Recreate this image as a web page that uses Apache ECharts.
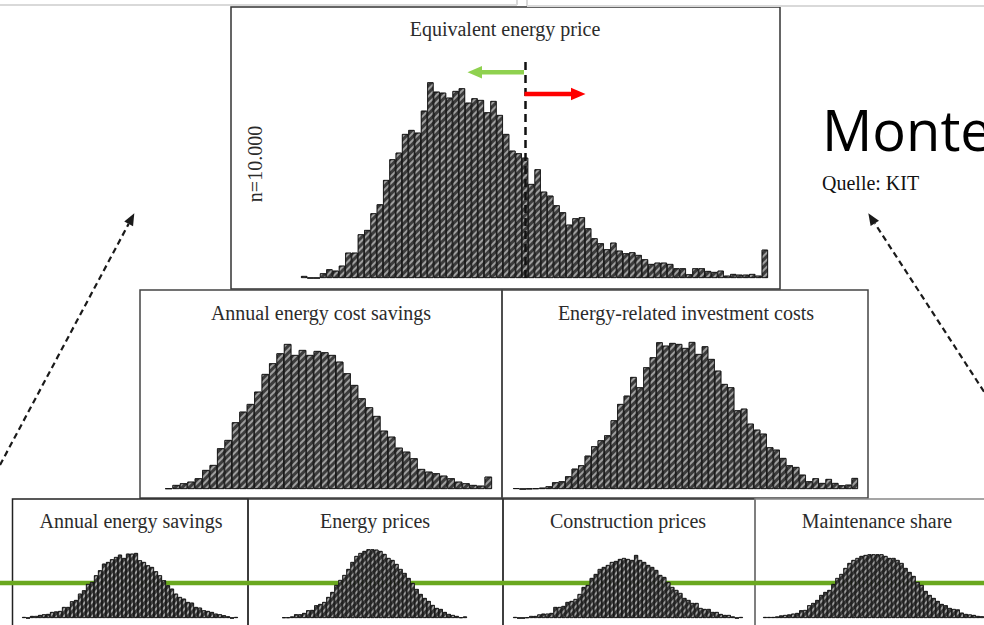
<!DOCTYPE html>
<html>
<head>
<meta charset="utf-8">
<script src="https://cdn.jsdelivr.net/npm/echarts@6/dist/echarts.min.js"></script>
<style>
html,body{margin:0;padding:0;background:#fff;}
#chart{width:984px;height:625px;}
</style>
</head>
<body>
<div id="chart"></div>
<script>
// ---- Titles ----
const titleTop = 'Equivalent energy price';
const titleMidLeft = 'Annual energy cost savings';
const titleMidRight = 'Energy-related investment costs';
const titleBottom = ['Annual energy savings', 'Energy prices', 'Construction prices', 'Maintenance share'];
const sampleLabel = 'n=10.000';
const slideTitle = 'Monte';
const sourceLabel = 'Quelle: KIT';

// ---- Histogram bin heights ----
const equivalentPrice = [2,0,0,4.7,8.7,7.3,12.3,25.3,25.3,43.7,48,64.7,73.7,98,118.7,125.3,144,148,145.3,167.3,
  195.7,186.3,185.3,180.3,187,189.7,175.3,179.7,178,165.7,177,163,144,127.3,124.7,120.3,94,108.7,86.3,82.3,
  72.7,65.7,53.3,59.7,60.7,49.7,39.7,34.7,28.7,35.3,27.3,24.7,25.7,23,18.7,14,15.3,15.3,14,9.7,
  9.7,3.7,9.7,9.7,7,6,7.3,2.3,4,3.3,3.3,4,2.3,28.3];
const costSavings = [0.7,4,5.7,7.3,10.7,19,24,40.7,49,66.7,77.3,85,97.3,115,125.7,135.7,145,134,139,134,
  138,136.7,134,127.3,115.7,104,90.7,81.7,73,58.3,52.3,41.3,37.3,30.7,20,17.3,15.7,13.3,10.7,7.3,
  5.7,4,3.3,12.3];
const investmentCosts = [0.9,0,0.4,0.7,1.3,2.7,6.7,7.7,12.7,20.3,23.7,33.3,42.7,48.7,53.7,68.7,85,93.3,112,101.7,
  121.7,131.7,146.7,143.3,146,145,141,147,135,142.7,130,118.3,105,101.7,78.7,80.3,65.3,59.3,55.3,41.7,
  39.3,31,23.7,22,14.3,7.7,10.7,6,10,6,3.7,4.3,11];
const energySavings = [1,0,2,2,3,3.7,4,6,6.5,7,11,11,16.7,18,24.3,27.7,34,36,42.7,47.7,
  54.3,56,58.7,61,63.3,60,64.3,64.3,65,57.7,56,52.7,51,46.7,42.7,37.7,32.7,29.3,24.3,21,
  19.3,16,15.3,11,10.3,7.7,7,6,4.3,3.7,2.7,1.7,0,1];
const energyPrices = [0.7,0.7,1.5,3.7,3.7,5,7.7,8,12.7,14,16,21,26,33,38,43,49,56,62,65,
  67,68.7,68.7,68.3,67,64,60,58,54,49,45,40,35,29,24,20,17,13,10,9,
  6,4,3,2,0.7,1.5];
const constructionPrices = [1,0,0,0.7,2,2,3.5,4.3,4.3,5,11,11,12,16,17,19,24,31,33,40,
  44,49,51,53,56,57,59,60,59,58,63,58,56,53,51,48,43,41,36,31,
  28,25,20,18,15,15,10,9,9,6,6,4,3,3,1.5,0,1];
const maintenanceShare = [1,1,1,1.5,2.5,3,3.5,4.3,5,7.7,8,12.7,15,18,23,26,28,34,40,44,
  50,55,58,60,62,63,63.7,63.7,63.7,63.7,62,60,60,58,55,50,46,42,36,33,
  27,23,20,17,14,12.7,10,9,8.5,5.3,4,3.5,3,2,1.7];

// ---- Build ----
const chart = echarts.init(document.getElementById('chart'), null, {renderer: 'svg'});

const panels = [
  {data: equivalentPrice,    left: 301, width: 467, top: 59,  height: 219, max: 219},
  {data: costSavings,        left: 165, width: 327, top: 339, height: 150, max: 150},
  {data: investmentCosts,    left: 513, width: 345, top: 339, height: 150, max: 150},
  {data: energySavings,      left: 22,  width: 216, top: 538, height: 80,  max: 80},
  {data: energyPrices,       left: 282, width: 185, top: 538, height: 80,  max: 80},
  {data: constructionPrices, left: 513, width: 230, top: 538, height: 80,  max: 80},
  {data: maintenanceShare,   left: 763, width: 221, top: 538, height: 80,  max: 80}
];

const barStyle = {
  color: '#3c3c3c',
  borderColor: '#151515',
  borderWidth: 0.8,
  decal: {
    symbol: 'rect',
    color: 'rgba(225,225,225,0.6)',
    dashArrayX: [1, 0],
    dashArrayY: [1.5, 2.5],
    rotation: -Math.PI / 4
  }
};

const grid = [], xAxis = [], yAxis = [], series = [];
panels.forEach((p, i) => {
  grid.push({left: p.left, top: p.top, width: p.width, height: p.height, containLabel: false});
  xAxis.push({type: 'category', gridIndex: i, data: p.data.map((_, k) => String(k)), show: false, boundaryGap: true});
  yAxis.push({type: 'value', gridIndex: i, min: 0, max: p.max, show: false});
  const s = {
    type: 'bar', xAxisIndex: i, yAxisIndex: i, data: p.data,
    barCategoryGap: '0%', itemStyle: barStyle, silent: true, animation: false, z: 3
  };
  if (i === 0) {
    s.markLine = {
      silent: true, symbol: 'none', label: {show: false},
      lineStyle: {type: [8, 5], color: '#111', width: 2.5},
      data: [{xAxis: '35'}]
    };
  }
  series.push(s);
});

const serif = '"Liberation Serif", "Times New Roman", serif';
function txt(x, y, text, size, opts) {
  return Object.assign({
    type: 'text', x: x, y: y, z: 10,
    style: Object.assign({
      text: text, font: size + 'px ' + serif, fill: '#2b2b2b',
      align: 'center', verticalAlign: 'middle', textAlign: 'center', textVerticalAlign: 'middle'
    }, (opts && opts.style) || {})
  }, (opts && opts.el) || {});
}
function box(x, y, w, h, color) {
  return {type: 'rect', z: 0, shape: {x: x, y: y, width: w, height: h},
    style: {fill: 'none', stroke: color || '#3a3a3a', lineWidth: 1.5}};
}
function line(x1, y1, x2, y2, color, w, dash, z) {
  return {type: 'line', z: z || 5, shape: {x1: x1, y1: y1, x2: x2, y2: y2},
    style: {stroke: color, lineWidth: w, lineDash: dash || null}};
}
function poly(points, color, z) {
  return {type: 'polygon', z: z || 5, shape: {points: points}, style: {fill: color}};
}
function dashedArrow(x1, y1, x2, y2) {
  const ang = Math.atan2(y2 - y1, x2 - x1);
  const L = 12, W = 5;
  const bx = x2 - L * Math.cos(ang), by = y2 - L * Math.sin(ang);
  const px = -Math.sin(ang) * W, py = Math.cos(ang) * W;
  return [
    line(x1, y1, bx, by, '#1a1a1a', 2.2, [6, 4], 5),
    poly([[x2, y2], [bx + px, by + py], [bx - px, by - py]], '#1a1a1a', 5)
  ];
}

const graphics = [
  // page edges at top
  line(0, 5, 517, 5, '#d9d9d9', 2, null, 0),
  line(517, 0, 517, 5, '#d9d9d9', 2, null, 0),
  line(527, 0, 527, 6, '#d9d9d9', 2, null, 0),
  line(527, 6, 984, 6, '#d9d9d9', 2, null, 0),
  // panel frames
  box(231, 7, 549, 282, '#333'),
  box(140, 290, 362, 208, '#444'),
  box(502, 290, 366, 208, '#444'),
  box(12.5, 499, 235.5, 140, '#222'),
  box(248, 499, 255, 140, '#333'),
  box(503, 499, 252, 140, '#333'),
  box(755, 499, 260, 140, '#888'),
  // green reference line (behind bars)
  line(0, 583, 984, 583, '#6aa81f', 4.5, null, 1),
  // titles
  txt(505, 29, titleTop, 20),
  txt(321, 313, titleMidLeft, 20),
  txt(686, 313, titleMidRight, 20),
  txt(131, 521, titleBottom[0], 20),
  txt(375, 521, titleBottom[1], 20),
  txt(628, 521, titleBottom[2], 20),
  txt(877, 521, titleBottom[3], 20),
  txt(255, 164, sampleLabel, 20, {el: {rotation: Math.PI / 2}}),
  // slide text (cut off at the right edge, as in the reference)
  {type: 'text', x: 822, y: 129, z: 10, style: {text: slideTitle, font: '56px "Open Sans", "Noto Sans", sans-serif',
    fill: '#000', align: 'left', verticalAlign: 'middle', textAlign: 'left', textVerticalAlign: 'middle'}},
  {type: 'text', x: 822, y: 183, z: 10, style: {text: sourceLabel, font: '20px ' + serif,
    fill: '#111', align: 'left', verticalAlign: 'middle', textAlign: 'left', textVerticalAlign: 'middle'}},
  // green (left) arrow
  line(524, 72.3, 480, 72.3, '#8fd14f', 4.5, null, 6),
  poly([[467.5, 72.3], [482, 66], [482, 78.6]], '#8fd14f', 6),
  // red (right) arrow
  line(524.5, 94, 573, 94, '#ff0000', 4.5, null, 6),
  poly([[585.5, 94], [571, 87.8], [571, 100.2]], '#ff0000', 6)
].concat(dashedArrow(0, 465, 134.3, 213.3), dashedArrow(984, 391.7, 868.3, 213.3));

chart.setOption({
  animation: false,
  backgroundColor: '#fff',
  grid: grid, xAxis: xAxis, yAxis: yAxis, series: series,
  graphic: {elements: graphics}
});
</script>
</body>
</html>
